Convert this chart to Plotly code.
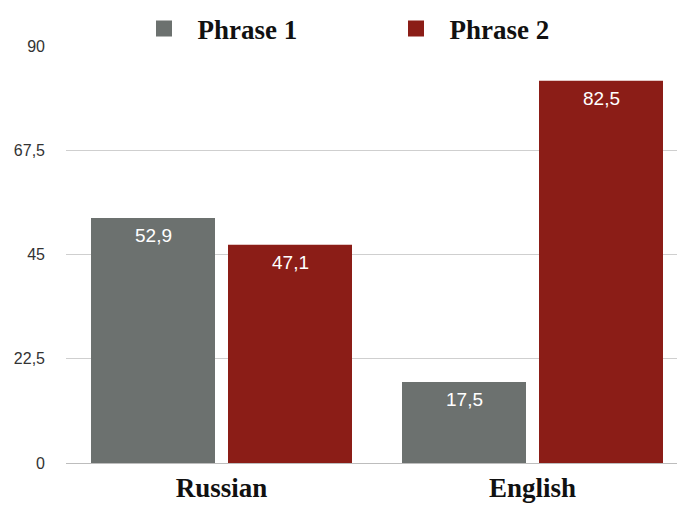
import plotly.graph_objects as go

categories = ["Russian", "English"]
phrase1 = [52.9, 17.5]
phrase2 = [47.1, 82.5]
series_names = ["Phrase 1", "Phrase 2"]
colors = ["#6c716f", "#8b1d17"]
y_ticks = [0, 22.5, 45, 67.5, 90]

W, H = 677, 505
ML, MR, MT, MB = 66, 0, 46, 42

fig = go.Figure()
xs = [0, 1]
bar_w = 0.3987
offsets = [-0.4196, 0.0209]
for name, vals, col, off in zip(series_names, [phrase1, phrase2], colors, offsets):
    fig.add_trace(go.Bar(
        x=xs, y=vals, name=name, width=bar_w, offset=off,
        marker=dict(color=col, line=dict(width=0)),
        showlegend=False, hoverinfo="skip",
    ))
    for xi, v in zip(xs, vals):
        fig.add_annotation(
            x=xi + off + bar_w / 2, y=v, yshift=-18, yanchor="middle",
            text=f"{v:.1f}".replace(".", ","), showarrow=False,
            font=dict(family="Liberation Sans, Arial", size=19, color="white"),
        )
    fig.add_trace(go.Scatter(
        x=[None], y=[None], mode="markers", name="&nbsp;&nbsp;<b>" + name + "</b>",
        marker=dict(symbol="square", size=22, color=col),
        showlegend=True,
    ))

fig.update_layout(
    width=W, height=H,
    margin=dict(l=ML, r=MR, t=MT, b=MB, autoexpand=False),
    plot_bgcolor="white", paper_bgcolor="white",
    separators=", ",
    barmode="overlay",
    showlegend=True,
    legend=dict(
        orientation="h", x=78 / (W - ML), xanchor="left",
        yref="container", y=1 - 29 / H, yanchor="middle",
        entrywidth=207, entrywidthmode="pixels",
        itemsizing="trace",
        font=dict(family="Liberation Serif, Times New Roman", size=27, color="#111"),
        bgcolor="rgba(0,0,0,0)",
    ),
    xaxis=dict(
        range=[-0.5, 1 + (W - 532.5) / 311], tickmode="array", tickvals=xs,
        ticktext=[f"<b>{c}</b>" for c in categories],
        tickfont=dict(family="Liberation Serif, Times New Roman", size=27, color="#111"),
        showgrid=False, zeroline=False, showline=False, ticks="",
        ticklabelstandoff=6,
    ),
    yaxis=dict(
        range=[0, 90], tickvals=y_ticks,
        tickfont=dict(family="Liberation Sans, Arial", size=16, color="#333"),
        showgrid=True, gridcolor="#cfcfcf", gridwidth=1,
        zeroline=True, zerolinecolor="#bdbdbd", zerolinewidth=1,
        showline=False, ticks="", ticklabelstandoff=20,
    ),
)

fig.write_html("out.html")
